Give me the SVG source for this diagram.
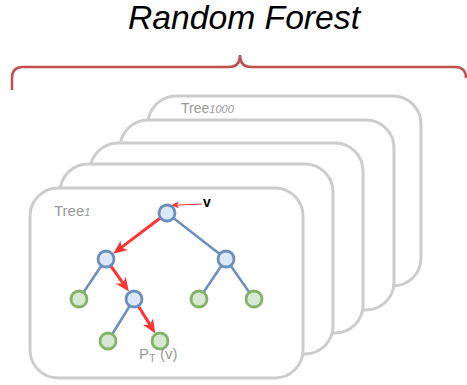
<svg xmlns="http://www.w3.org/2000/svg" width="467" height="385" viewBox="0 0 467 385">
<style>
.card{fill:#fff;stroke:#cccccc;stroke-width:3}
.inner{fill:#dae8fc;stroke:#6c8ebf;stroke-width:2.8}
.leaf{fill:#d5e8d4;stroke:#82b366;stroke-width:2.8}
.edge{stroke:#6c8ebf;stroke-width:2.5;fill:none}
.path{stroke:#ff3333;stroke-width:3;fill:none;marker-end:url(#ah)}
.lbl{font-family:"Liberation Sans",Arial,sans-serif;fill:#999999}
</style>
<defs>
<marker id="ah" markerUnits="userSpaceOnUse" markerWidth="14" markerHeight="12" refX="4" refY="6" orient="auto" viewBox="0 0 14 12">
<path d="M0,0 L14,6 L0,12 L4,6 Z" fill="#ff3333"/>
</marker>
<marker id="ahs" markerUnits="userSpaceOnUse" markerWidth="8" markerHeight="7" refX="2" refY="3.5" orient="auto" viewBox="0 0 8 7">
<path d="M0,0 L8,3.5 L0,7 L2,3.5 Z" fill="#ff3333"/>
</marker>
</defs>
<text x="244" y="29" font-family="Liberation Sans,Arial,sans-serif" font-style="italic" font-size="33" text-anchor="middle" textLength="232" lengthAdjust="spacingAndGlyphs" fill="#000">Random Forest</text>
<path id="brace" d="M12,90 L12,78 Q12,67 23,67 L229,67 Q240,67 240,55 Q240,67 251,67 L455,67 Q466,67 466,78" fill="none" stroke="#c0504d" stroke-width="2.5"/>
<g id="tree1000"><rect class="card" x="148" y="96" width="273" height="190" rx="28"/>
<text class="lbl" x="181" y="113" font-size="14">Tree<tspan font-style="italic" font-size="11">1000</tspan></text></g>
<g id="tree4"><rect class="card" x="120" y="120" width="274" height="190" rx="28"/></g>
<g id="tree3"><rect class="card" x="90" y="143" width="273" height="190" rx="28"/></g>
<g id="tree2"><rect class="card" x="60" y="164" width="273" height="190" rx="28"/></g>
<g id="tree1"><rect class="card" x="30" y="188" width="273" height="190" rx="28"/>
<text class="lbl" x="54" y="216" font-size="15">Tree<tspan font-style="italic" font-size="11">1</tspan></text></g>
<g id="connectors">
<line class="edge" x1="167" y1="213" x2="226" y2="259"/>
<line class="edge" x1="106" y1="259" x2="79" y2="299"/>
<line class="edge" x1="134" y1="299" x2="108" y2="341"/>
<line class="edge" x1="226" y1="259" x2="199" y2="299"/>
<line class="edge" x1="226" y1="259" x2="254" y2="299"/>
<line class="path" x1="160.6" y1="217.8" x2="121.2" y2="247.6"/>
<line class="path" x1="110.6" y1="265.6" x2="123.1" y2="283.4"/>
<line class="path" x1="138.2" y1="305.8" x2="150.0" y2="324.9"/>
<line x1="202" y1="204" x2="177" y2="205" stroke="#ff3333" stroke-width="1.2" marker-end="url(#ahs)"/>
</g>
<g id="root"><circle class="inner" cx="167" cy="213" r="8"/></g>
<g id="n_l"><circle class="inner" cx="106" cy="259" r="8"/></g>
<g id="n_r"><circle class="inner" cx="226" cy="259" r="8"/></g>
<g id="n_ll"><circle class="leaf" cx="79" cy="299" r="8"/></g>
<g id="n_lr"><circle class="inner" cx="134" cy="299" r="8"/></g>
<g id="n_rl"><circle class="leaf" cx="199" cy="299" r="8"/></g>
<g id="n_rr"><circle class="leaf" cx="254" cy="299" r="8"/></g>
<g id="n_lrl"><circle class="leaf" cx="108" cy="341" r="8"/></g>
<g id="n_lrr"><circle class="leaf" cx="160" cy="341" r="8"/></g>
<text x="203" y="207" font-family="Liberation Sans,Arial,sans-serif" font-weight="bold" font-size="14" fill="#000">v</text>
<text class="lbl" x="139" y="359" font-size="15">P<tspan font-size="11" dy="3">T</tspan><tspan dy="-3"> (v)</tspan></text>
</svg>
